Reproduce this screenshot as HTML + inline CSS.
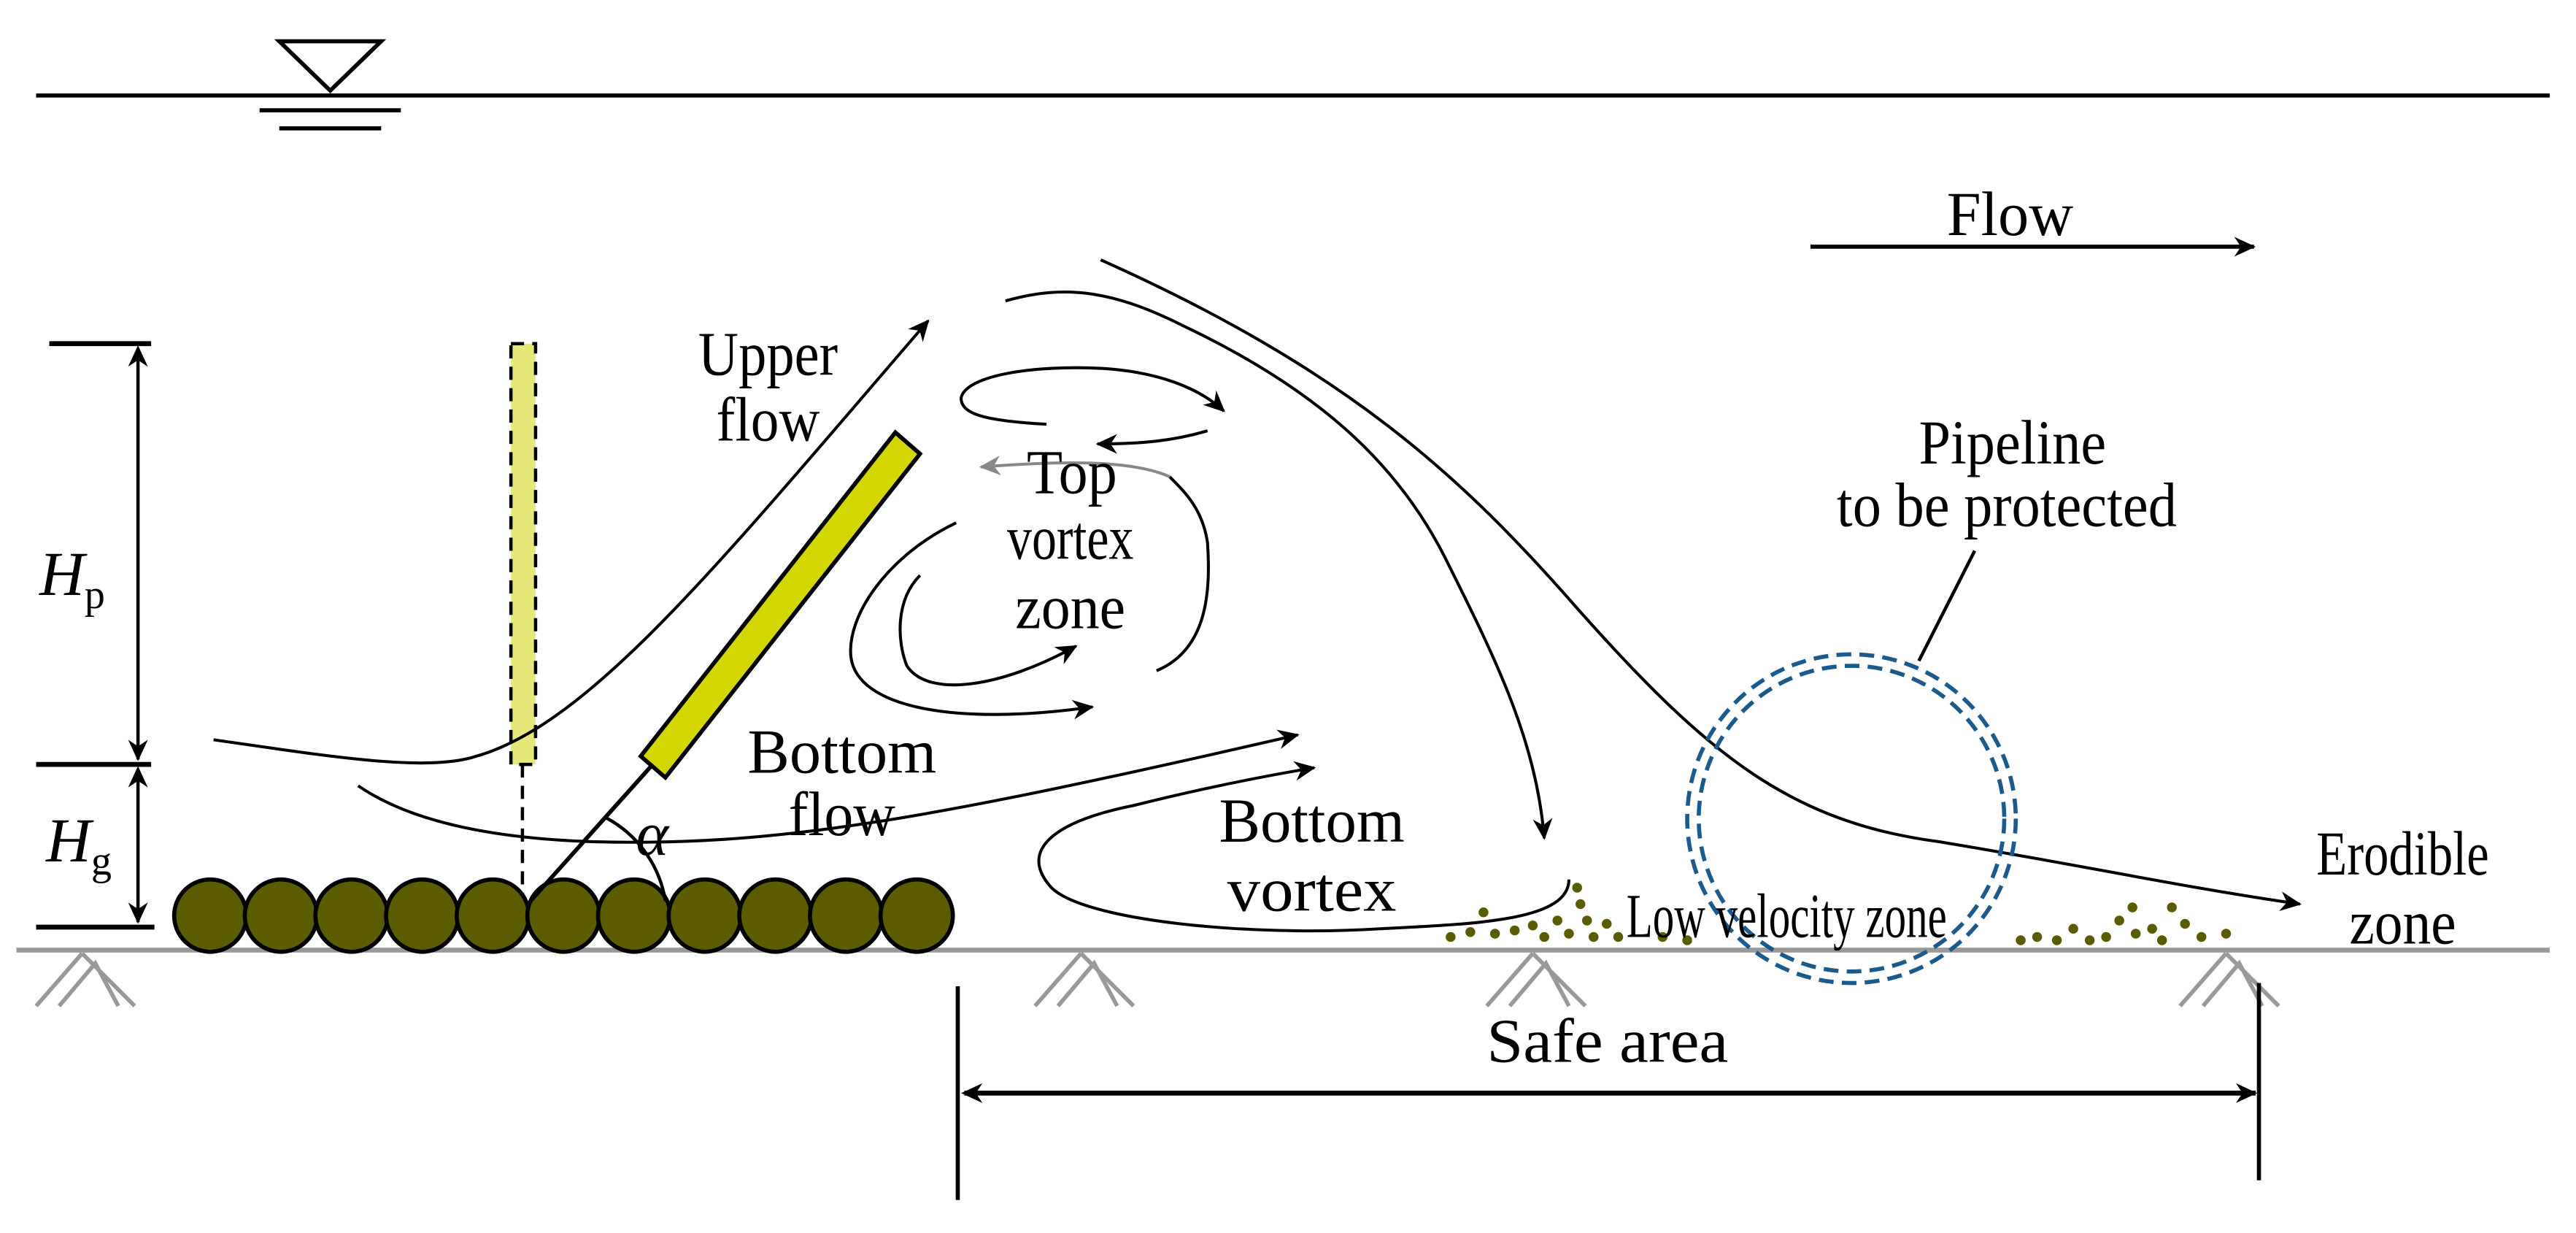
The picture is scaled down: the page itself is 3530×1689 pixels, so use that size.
<!DOCTYPE html>
<html><head><meta charset="utf-8"><style>
html,body{margin:0;padding:0;background:#fff;}
svg{display:block;}
text{font-family:"Liberation Serif",serif;font-size:38px;fill:#000;}
</style></head><body>
<svg width="3530" height="1689" viewBox="0 0 1568 750" xmlns="http://www.w3.org/2000/svg">
<defs>
<marker id="a" markerWidth="14" markerHeight="12" refX="12" refY="6" orient="auto" markerUnits="userSpaceOnUse">
<path d="M0,0 L13,6 L0,12 L4,6 Z" fill="#000"/></marker>
<marker id="ag" markerWidth="14" markerHeight="12" refX="12" refY="6" orient="auto" markerUnits="userSpaceOnUse">
<path d="M0,0 L13,6 L0,12 L4,6 Z" fill="#888"/></marker>
<marker id="as" markerWidth="14" markerHeight="12" refX="2" refY="6" orient="auto" markerUnits="userSpaceOnUse">
<path d="M13,0 L0,6 L13,12 L9,6 Z" fill="#000"/></marker>
</defs>
<line x1="22" y1="58" x2="1552" y2="58" stroke="#000" stroke-width="2.5"/>
<path d="M170,25 L232,25 L201,55 Z" fill="none" stroke="#000" stroke-width="2.5"/>
<line x1="158" y1="67" x2="244" y2="67" stroke="#000" stroke-width="2.5"/>
<line x1="170" y1="78" x2="232" y2="78" stroke="#000" stroke-width="2.5"/>
<line x1="1102" y1="150" x2="1372" y2="150" stroke="#000" stroke-width="2.5" marker-end="url(#a)"/>
<text x="1185" y="143" textLength="77" lengthAdjust="spacingAndGlyphs">Flow</text>
<line x1="30" y1="209" x2="92" y2="209" stroke="#000" stroke-width="3"/>
<line x1="22" y1="465" x2="92" y2="465" stroke="#000" stroke-width="3"/>
<line x1="22" y1="564" x2="94" y2="564" stroke="#000" stroke-width="3"/>
<line x1="84" y1="212" x2="84" y2="462" stroke="#000" stroke-width="2" marker-start="url(#as)" marker-end="url(#a)"/>
<line x1="84" y1="468" x2="84" y2="561" stroke="#000" stroke-width="2" marker-start="url(#as)" marker-end="url(#a)"/>
<text x="24" y="362" font-style="italic">H<tspan font-size="25" font-style="normal" dy="8">p</tspan></text>
<text x="28" y="524" font-style="italic">H<tspan font-size="25" font-style="normal" dy="8">g</tspan></text>
<line x1="10" y1="578" x2="1552" y2="578" stroke="#999" stroke-width="3"/>
<g stroke="#999" stroke-width="2.5" fill="none">
<path d="M22,612 L50,580 M36,612 L58,586 L72,612 M50,580 L82,612"/>
<path d="M630,612 L658,580 M644,612 L666,586 L680,612 M658,580 L690,612"/>
<path d="M905,612 L933,580 M919,612 L941,586 L955,612 M933,580 L965,612"/>
<path d="M1327,612 L1355,580 M1341,612 L1363,586 L1377,612 M1355,580 L1387,612"/>
</g>
<rect x="311" y="209" width="15" height="256" fill="#e6e87a" stroke="#000" stroke-width="2" stroke-dasharray="8,5"/>
<line x1="318" y1="465" x2="318" y2="545" stroke="#000" stroke-width="2" stroke-dasharray="8,5"/>
<path d="M130,450 C200,460 260,470 290,460 C360,440 440,340 565,195" fill="none" stroke="#000" stroke-width="1.8" marker-end="url(#a)"/>
<path d="M218,478 C250,500 300,510 360,512 C470,515 560,500 790,447" fill="none" stroke="#000" stroke-width="1.8" marker-end="url(#a)"/>
<g fill="#5b5b00" stroke="#000" stroke-width="2.5">
<circle cx="128" cy="557" r="22"/><circle cx="171" cy="557" r="22"/><circle cx="214" cy="557" r="22"/><circle cx="257" cy="557" r="22"/><circle cx="300" cy="557" r="22"/><circle cx="343" cy="557" r="22"/><circle cx="386" cy="557" r="22"/><circle cx="429" cy="557" r="22"/><circle cx="472" cy="557" r="22"/><circle cx="515" cy="557" r="22"/><circle cx="558" cy="557" r="22"/>
</g>
<line x1="323" y1="548" x2="400" y2="462" stroke="#000" stroke-width="2.5"/>
<polygon points="390,460 545,263 560,276 405,473" fill="#d4d600" stroke="#000" stroke-width="2.5"/>
<path d="M368,497 A70,70 0 0 1 405,548" fill="none" stroke="#000" stroke-width="2"/>
<text x="387" y="520" font-style="italic">α</text>
<g fill="none" stroke="#000" stroke-width="1.8">
<path d="M637,258 C600,256 585,252 585,242 C588,228 630,222 670,224 C705,226 730,236 745,250" marker-end="url(#a)"/>
<path d="M735,262 C715,268 695,270 668,270" marker-end="url(#a)"/>
<path d="M704,408 C735,395 737,360 735,330 C732,310 722,300 712,290"/>
<path d="M582,318 C540,338 515,375 518,400 C522,430 580,442 665,430" marker-end="url(#a)"/>
<path d="M560,350 C545,365 546,390 552,405 C565,425 610,418 655,393" marker-end="url(#a)"/>
<path d="M612,183 C650,172 680,178 720,198 C800,236 850,280 880,340 C910,400 935,450 940,510" marker-end="url(#a)"/>
<path d="M670,158 C820,225 890,290 960,370 C1040,460 1090,500 1180,512 C1260,525 1330,540 1400,550" marker-end="url(#a)"/>
<path d="M955,535 C955,560 900,562 840,565 C760,570 660,560 640,540 C620,518 640,500 690,490 C730,480 770,472 800,467" marker-end="url(#a)"/>
</g>
<path d="M712,290 C690,280 650,280 597,284" fill="none" stroke="#888" stroke-width="1.8" marker-end="url(#ag)"/>
<circle cx="1127" cy="498" r="100" fill="none" stroke="#1a5a8c" stroke-width="2.5" stroke-dasharray="9,5"/>
<circle cx="1127" cy="498" r="93" fill="none" stroke="#1a5a8c" stroke-width="2.5" stroke-dasharray="9,5"/>
<line x1="1168" y1="402" x2="1202" y2="335" stroke="#000" stroke-width="2"/>
<g fill="#5b5b00">
<circle cx="883" cy="570" r="3"/><circle cx="895" cy="567" r="3"/><circle cx="903" cy="555" r="3"/><circle cx="910" cy="568" r="3"/><circle cx="922" cy="566" r="3"/><circle cx="933" cy="563" r="3"/><circle cx="940" cy="570" r="3"/><circle cx="948" cy="560" r="3"/><circle cx="955" cy="568" r="3"/><circle cx="962" cy="550" r="3"/><circle cx="966" cy="560" r="3"/><circle cx="970" cy="570" r="3"/><circle cx="978" cy="562" r="3"/><circle cx="985" cy="570" r="3"/><circle cx="960" cy="540" r="3"/><circle cx="1012" cy="570" r="3"/><circle cx="1027" cy="572" r="3"/>
<circle cx="1230" cy="572" r="3"/><circle cx="1240" cy="570" r="3"/><circle cx="1252" cy="572" r="3"/><circle cx="1262" cy="565" r="3"/><circle cx="1272" cy="572" r="3"/><circle cx="1282" cy="570" r="3"/><circle cx="1290" cy="560" r="3"/><circle cx="1298" cy="552" r="3"/><circle cx="1300" cy="568" r="3"/><circle cx="1310" cy="565" r="3"/><circle cx="1316" cy="572" r="3"/><circle cx="1322" cy="552" r="3"/><circle cx="1330" cy="562" r="3"/><circle cx="1340" cy="570" r="3"/><circle cx="1355" cy="568" r="3"/>
</g>
<line x1="583" y1="600" x2="583" y2="730" stroke="#000" stroke-width="2.5"/>
<line x1="1375" y1="598" x2="1375" y2="718" stroke="#000" stroke-width="2.5"/>
<line x1="587" y1="665" x2="1373" y2="665" stroke="#000" stroke-width="3" marker-start="url(#as)" marker-end="url(#a)"/>
<text x="905" y="646" textLength="147" lengthAdjust="spacingAndGlyphs">Safe area</text>
<text x="425" y="228" textLength="85" lengthAdjust="spacingAndGlyphs">Upper</text>
<text x="436" y="268" textLength="63" lengthAdjust="spacingAndGlyphs">flow</text>
<text x="625" y="300" textLength="55" lengthAdjust="spacingAndGlyphs">Top</text>
<text x="613" y="340" textLength="77" lengthAdjust="spacingAndGlyphs">vortex</text>
<text x="618" y="382" textLength="67" lengthAdjust="spacingAndGlyphs">zone</text>
<text x="455" y="470" textLength="115" lengthAdjust="spacingAndGlyphs">Bottom</text>
<text x="480" y="508" textLength="65" lengthAdjust="spacingAndGlyphs">flow</text>
<text x="742" y="512" textLength="113" lengthAdjust="spacingAndGlyphs">Bottom</text>
<text x="747" y="554" textLength="103" lengthAdjust="spacingAndGlyphs">vortex</text>
<text x="990" y="570" textLength="195" lengthAdjust="spacingAndGlyphs">Low velocity zone</text>
<text x="1410" y="532" textLength="105" lengthAdjust="spacingAndGlyphs">Erodible</text>
<text x="1430" y="574" textLength="65" lengthAdjust="spacingAndGlyphs">zone</text>
<text x="1168" y="282" textLength="114" lengthAdjust="spacingAndGlyphs">Pipeline</text>
<text x="1118" y="320" textLength="207" lengthAdjust="spacingAndGlyphs">to be protected</text>
</svg>
</body></html>
